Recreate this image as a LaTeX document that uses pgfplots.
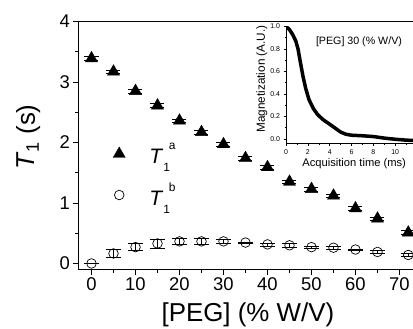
\documentclass[border=0pt]{standalone}
\usepackage{fontspec}
\setmainfont{Liberation Sans}
\usepackage{pgfplots}
\pgfplotsset{compat=1.18}
\usetikzlibrary{calc}
\begin{document}
\begin{tikzpicture}
\begin{axis}[name=main, scale only axis, width=347.6bp, height=248bp,
  xmin=-3, xmax=76, ymin=-0.1, ymax=4,
  xtick={0,10,...,70}, minor xtick={5,15,...,75},
  ytick={0,1,2,3,4}, minor ytick={0.5,1.5,2.5,3.5},
  tick align=outside, xtick pos=left, ytick pos=left,
  major tick length=5bp, minor tick length=3bp,
  every tick/.style={black, line width=0.8bp},
  axis line style={line width=1.2bp},
  tick label style={font=\fontsize{18.5}{20}\selectfont},
  /pgf/number format/assume math mode=true,
  xlabel={[PEG] (\% W/V)},
  ylabel={\textit{T}\textsubscript{1} (s)},
  x label style={at={(axis description cs:0.488,-0.183)}, anchor=center, font=\fontsize{26}{28}\selectfont},
  y label style={at={(axis description cs:-0.144,0.534)}, anchor=center, font=\fontsize{26}{28}\selectfont},
  legend style={draw=none, fill=none, at={(axis cs:4.2,2.06)}, anchor=north west,
    font=\fontsize{21}{23}\selectfont, row sep=14bp, nodes={inner xsep=15bp}},
  legend cell align=left,
]
\addplot[only marks, mark=triangle*, mark size=7bp, black,
  error bars/.cd, y dir=both, y explicit,
  error bar style={line width=0.6bp},
  error mark options={rotate=90, mark size=7bp, line width=0.7bp, black}]
coordinates {
(0,3.39) +- (0,0.03)
(5,3.17) +- (0,0.03)
(10,2.85) +- (0,0.03)
(15,2.61) +- (0,0.03)
(20,2.36) +- (0,0.03)
(25,2.17) +- (0,0.03)
(30,1.97) +- (0,0.03)
(35,1.74) +- (0,0.03)
(40,1.59) +- (0,0.03)
(45,1.35) +- (0,0.03)
(50,1.23) +- (0,0.03)
(55,1.12) +- (0,0.03)
(60,0.91) +- (0,0.03)
(65,0.74) +- (0,0.03)
(72,0.51) +- (0,0.03)
};
\addlegendentry{\hspace{9bp}\textit{T}\raisebox{-8bp}{\fontsize{12}{13}\selectfont 1}\kern-1bp\raisebox{14bp}{\fontsize{12}{13}\selectfont a}}
\addplot[only marks, mark=o, mark size=4.8bp, black, mark options={line width=0.7bp},
  error bars/.cd, y dir=both, y explicit,
  error bar style={line width=0.6bp},
  error mark options={rotate=90, mark size=7.5bp, line width=0.7bp, black}]
coordinates {
(0,0.0) +- (0,0.0)
(5,0.165) +- (0,0.065)
(10,0.27) +- (0,0.06)
(15,0.33) +- (0,0.075)
(20,0.365) +- (0,0.05)
(25,0.365) +- (0,0.045)
(30,0.365) +- (0,0.03)
(35,0.345) +- (0,0.01)
(40,0.315) +- (0,0.025)
(45,0.30) +- (0,0.03)
(50,0.27) +- (0,0.02)
(55,0.26) +- (0,0.02)
(60,0.23) +- (0,0.01)
(65,0.19) +- (0,0.02)
(72,0.14) +- (0,0.02)
};
\addlegendentry{\hspace{9bp}\textit{T}\raisebox{-8bp}{\fontsize{12}{13}\selectfont 1}\kern-1bp\raisebox{14bp}{\fontsize{12}{13}\selectfont b}}
\end{axis}
\begin{axis}[at={($(main.south west)+(207.7bp,126.2bp)$)}, anchor=south west,
  scale only axis, width=142bp, height=116.8bp,
  xmin=0, xmax=13, ymin=-0.04, ymax=1.0,
  axis x line*=bottom, axis y line*=left,
  axis line style={line width=0.8bp, -},
  xtick={0,2,4,6,8,10}, ytick={0,0.2,0.4,0.6,0.8,1.0},
  minor xtick={1,3,...,11}, minor ytick={0.1,0.3,0.5,0.7,0.9},
  tick align=outside, major tick length=2.5bp, minor tick length=1.5bp,
  every tick/.style={black, line width=0.5bp},
  yticklabel style={/pgf/number format/.cd, fixed, fixed zerofill, precision=1},
  tick label style={font=\fontsize{7}{8}\selectfont},
  /pgf/number format/assume math mode=true,
  xlabel={Acquisition time (ms)},
  ylabel={Magnetization (A.U.)},
  x label style={at={(axis description cs:0.48,-0.17)}, anchor=center, font=\fontsize{11.2}{12}\selectfont},
  y label style={at={(axis description cs:-0.17,0.55)}, anchor=center, font=\fontsize{11.8}{12}\selectfont},
]
\addplot[black, line width=3.5bp, line join=round] coordinates {
(0,1.0) (0.3,0.975) (0.6,0.93) (0.9,0.87) (1.1,0.8) (1.3,0.69) (1.55,0.56)
(1.8,0.45) (2.1,0.35) (2.5,0.27) (2.9,0.215) (3.4,0.17) (4.0,0.13) (4.5,0.095)
(5.0,0.06) (5.5,0.04) (6.0,0.032) (7.0,0.027) (8.0,0.02) (9.0,0.006) (10.0,-0.004)
(11.0,-0.012) (12.0,-0.016) (13.0,-0.018)
};
\node[font=\fontsize{10.7}{12}\selectfont] at (axis cs:6.68,0.86) {[PEG] 30 (\% W/V)};
\end{axis}
\pgfresetboundingbox
\path[use as bounding box] ($(main.south west)+(-78.3bp,-59.5bp)$) rectangle ++(413bp,329bp);
\end{tikzpicture}
\end{document}
